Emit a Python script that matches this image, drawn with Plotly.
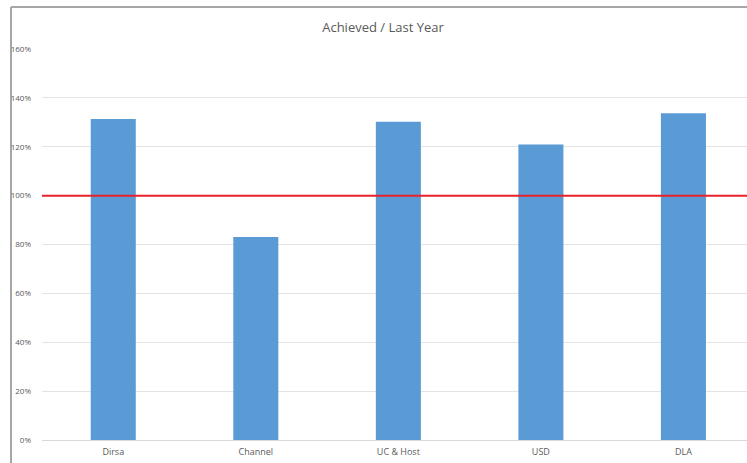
import plotly.graph_objects as go

categories = ["Dirsa", "Channel", "UC & Host", "USD", "DLA"]
achieved_vs_last_year = [1.314, 0.831, 1.302, 1.209, 1.337]
target_level = 1.0
y_tick_values = [0, 0.2, 0.4, 0.6, 0.8, 1.0, 1.2, 1.4, 1.6]
y_tick_labels = ["0%", "20%", "40%", "60%", "80%", "100%", "120%", "140%", "160%"]

W, H = 747, 463
ml, mr, mt, mb = 42, 0, 49, 23
pw = W - ml - mr
ph = H - mt - mb

fig = go.Figure()
fig.add_trace(go.Bar(
    x=categories, y=achieved_vs_last_year,
    marker=dict(color="#5b9bd5", line=dict(width=0)),
    width=0.316,
))

fig.add_shape(type="line", xref="paper", yref="y", x0=0, x1=1,
              y0=target_level, y1=target_level,
              line=dict(color="#e8202a", width=2), layer="above")

# outer chart border (left and top)
bx = (11 - ml) / pw
ty = 1 + (mt - 7) / ph
by = -(H - (H - mb)) / ph
fig.add_shape(type="line", xref="paper", yref="paper", x0=bx, x1=bx, y0=by, y1=ty,
              line=dict(color="#a6a6a6", width=2), layer="below")
fig.add_shape(type="line", xref="paper", yref="paper", x0=bx, x1=1.01, y0=ty, y1=ty,
              line=dict(color="#a6a6a6", width=2), layer="below")

fig.update_layout(
    width=W, height=H,
    margin=dict(l=ml, r=mr, t=mt, b=mb, pad=0),
    paper_bgcolor="white", plot_bgcolor="white",
    showlegend=False,
    title=dict(text="Achieved / Last Year", x=(383) / W, xanchor="center",
               y=1 - 27 / H, yanchor="middle",
               font=dict(family="Open Sans", size=13, color="#595959")),
    font=dict(family="Open Sans", size=9, color="#595959"),
    xaxis=dict(range=[-0.5, 4.446], showgrid=False, zeroline=False,
               showline=True, linecolor="#d9d9d9", linewidth=1,
               ticks="", tickfont=dict(size=9, color="#595959"),
               ticklabelstandoff=3),
    yaxis=dict(range=[0, 1.6], tickvals=y_tick_values, ticktext=y_tick_labels,
               showgrid=True, gridcolor="#e3e3e3", gridwidth=1,
               zeroline=False, showline=False, ticks="",
               tickfont=dict(size=8, color="#595959"),
               ticklabelstandoff=10),
)

fig.write_html("out.html", config={"displayModeBar": False, "staticPlot": True},
               post_script="document.body.style.margin='0';document.body.style.overflow='hidden';")
